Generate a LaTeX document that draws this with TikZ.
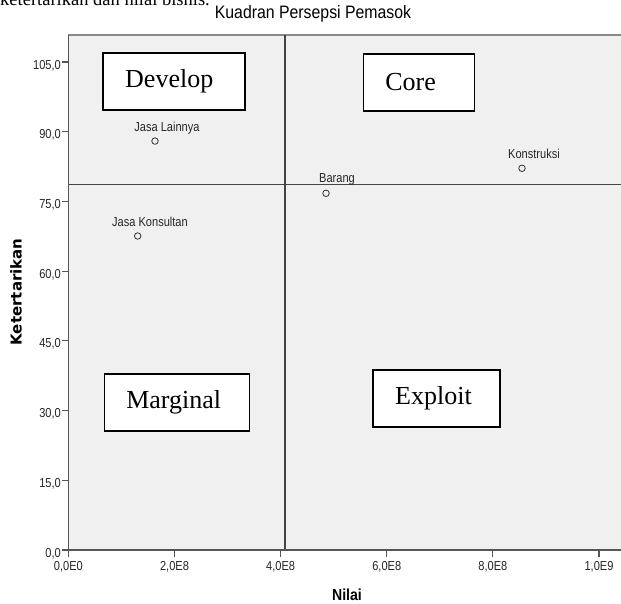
\documentclass[tikz,border=0pt]{standalone}
\usepackage{fontspec}
\setmainfont{Liberation Serif}
\newfontfamily\chartfont[FakeStretch=0.85]{Liberation Sans}
\newfontfamily\titlefont[FakeStretch=0.88]{Liberation Sans}
\newfontfamily\ylabfont{DejaVu Sans}
\usetikzlibrary{positioning}
\definecolor{plotbg}{HTML}{F0F0F0}
\definecolor{axisgray}{HTML}{555555}
\definecolor{refgray}{HTML}{444444}
\tikzstyle{quad} = [draw, line width=1.6pt, fill=white, rectangle, minimum height=57pt, inner xsep=22pt, align=left, font=\fontsize{26}{26}\selectfont]
\tikzstyle{pt} = [draw=black!80, circle, line width=0.8pt, minimum size=6.5pt, inner sep=0pt]
\tikzstyle{ptlabel} = [anchor=base, inner sep=0pt, text=black!85, font=\chartfont\fontsize{13}{13}\selectfont]
\tikzstyle{ticklabel} = [inner sep=0pt, text=black!85, font=\chartfont\fontsize{13}{13}\selectfont]

\begin{document}
\begin{tikzpicture}[x=1pt,y=1pt]
		\useasboundingbox (0,0) rectangle (621,603);
		\clip (0,0) rectangle (621,603);
		\fill [white] (0,0) rectangle (621,603);
		\node (intro) [anchor=base west, inner sep=0pt, font=\fontsize{18.5}{18.5}\selectfont] at (0,597) {ketertarikan dan nilai bisnis.};
		\node (title) [anchor=base, inner sep=0pt, font=\titlefont\fontsize{18}{18}\selectfont] at (313,584.5) {Kuadran Persepsi Pemasok};
		\node (ylab) [anchor=base, rotate=90, inner sep=0pt, font=\ylabfont\bfseries\fontsize{15}{15}\selectfont] at (21.7,311) {Ketertarikan};
		\node (xlab) [anchor=base, inner sep=0pt, font=\titlefont\bfseries\fontsize{16}{16}\selectfont] at (347,3) {Nilai};
		
		\begin{scope}[shift={(68.4,53)}, x=53.06pt, y=4.647pt]
			\fill [plotbg] (0,0) rectangle (10.5,110.8);
			\draw [axisgray!70, line width=1.4pt] (0,110.8) -- (10.5,110.8);
			\draw [refgray, line width=1.2pt] (4.082,0) -- (4.082,110.8);
			\draw [refgray, line width=1.2pt] (0,78.7) -- (10.5,78.7);
			\draw [axisgray, line width=1.8pt] (0,110.8) -- (0,0) -- (10.5,0);
			
			\foreach \v in {0,15,...,105} {
				\draw [axisgray, line width=1.2pt] (0,\v) -- ++(-6.5pt,0);
				\node [ticklabel, anchor=base east, yshift=-7pt] at (-0.14,\v) {\v,0};
			}
			\foreach \x/\t in {0/{0,0E0},2/{2,0E8},4/{4,0E8},6/{6,0E8},8/{8,0E8},10/{1,0E9}} {
				\draw [axisgray, line width=1.2pt] (\x,0) -- ++(0,-6.5pt);
				\node [ticklabel, anchor=base, yshift=-20.6pt] at (\x,0) {\t};
			}
			
			\node (jl) [pt] at (1.632,88.0) {};
			\node (br) [pt] at (4.855,76.76) {};
			\node (jk) [pt] at (1.306,67.57) {};
			\node (ko) [pt] at (8.549,82.14) {};
			\node (jlLab) [ptlabel] at ([shift={(12pt,9.9pt)}]jl) {Jasa Lainnya};
			\node (brLab) [ptlabel] at ([shift={(11pt,11pt)}]br) {Barang};
			\node (jkLab) [ptlabel] at ([shift={(12.3pt,9.9pt)}]jk) {Jasa Konsultan};
			\node (koLab) [ptlabel] at ([shift={(12pt,9.9pt)}]ko) {Konstruksi};
		\end{scope}
		
		\node (dev) [quad, text width=98pt] at (174.2,521.3) {Develop};
		\node (core) [quad, text width=67pt] at (418.8,520.5) {Core};
		\node (marg) [quad, text width=101pt] at (176.8,200.3) {Marginal};
		\node (expl) [quad, text width=83pt] at (436.7,204.7) {Exploit};
	\end{tikzpicture}
\end{document}
